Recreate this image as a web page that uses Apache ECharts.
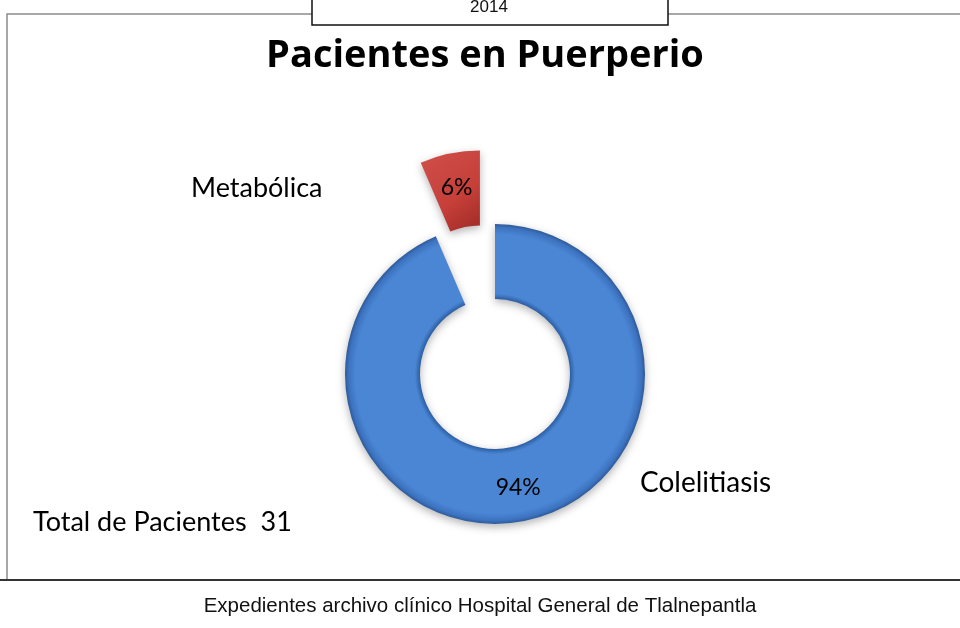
<!DOCTYPE html>
<html>
<head>
<meta charset="utf-8">
<script src="https://cdn.jsdelivr.net/npm/echarts@6/dist/echarts.min.js"></script>
<style>
  html, body { margin: 0; padding: 0; background: #fff; }
  #chart { width: 960px; height: 628px; }
</style>
</head>
<body>
<div id="chart"></div>
<script>
// data
const categories = ['Colelitiasis', 'Metabólica']
const patients = [29, 2]
const totalLabel = 'Total de Pacientes  31'
const yearLabel = '2014'
const sourceLabel = 'Expedientes archivo clínico Hospital General de Tlalnepantla'

const chart = echarts.init(document.getElementById('chart'))

const blueRing = {
  type: 'radial', x: 0.5, y: 0.5, r: 0.5,
  colorStops: [
    { offset: 0.5, color: '#2c5ea3' },
    { offset: 0.535, color: '#4a86d4' },
    { offset: 0.93, color: '#4a86d4' },
    { offset: 0.975, color: '#3d73c0' },
    { offset: 1, color: '#2d5a98' }
  ]
}
const redSlice = {
  type: 'linear', x: 0, y: 0, x2: 1, y2: 1,
  colorStops: [
    { offset: 0, color: '#d0504a' },
    { offset: 0.6, color: '#c63f39' },
    { offset: 1, color: '#9e2a26' }
  ]
}
const sliceColors = [blueRing, redSlice]
const bodyFont = 'Lato, "Open Sans", sans-serif'

const option = {
  backgroundColor: '#fff',
  animation: false,
  graphic: [
    // outer frame
    {
      type: 'rect', silent: true,
      shape: { x: 7, y: 14, width: 960, height: 566 },
      style: { fill: 'none', stroke: '#8c8c8c', lineWidth: 1.5 }
    },
    {
      type: 'line', silent: true,
      shape: { x1: 0, y1: 580, x2: 960, y2: 580 },
      style: { stroke: '#333', lineWidth: 2 }
    },
    // year box
    {
      type: 'rect', silent: true,
      shape: { x: 312, y: -3, width: 356, height: 28 },
      style: { fill: '#fff', stroke: '#111', lineWidth: 1.5 }
    },
    {
      type: 'text', silent: true, x: 489, y: 7,
      style: { text: yearLabel, font: '17px "Liberation Sans", Arial', fill: '#111', align: 'center', verticalAlign: 'middle' }
    },
    {
      type: 'text', silent: true, x: 485, y: 56,
      style: { text: 'Pacientes en Puerperio', font: 'bold 38px "Open Sans", Lato, sans-serif', fill: '#000', align: 'center', verticalAlign: 'middle' }
    },
    {
      type: 'text', silent: true, x: 191, y: 188,
      style: { text: categories[1], font: '27px ' + bodyFont, fill: '#000', verticalAlign: 'middle' }
    },
    {
      type: 'text', silent: true, x: 640, y: 483,
      style: { text: categories[0], font: '28px ' + bodyFont, fill: '#000', verticalAlign: 'middle' }
    },
    {
      type: 'text', silent: true, x: 33, y: 522,
      style: { text: totalLabel, font: '27px ' + bodyFont, fill: '#000', verticalAlign: 'middle' }
    },
    {
      type: 'text', silent: true, x: 480, y: 606,
      style: { text: sourceLabel, font: '20.5px "Liberation Sans", Arial', fill: '#111', align: 'center', verticalAlign: 'middle' }
    }
  ],
  series: [
    {
      type: 'pie',
      center: [495, 374],
      radius: [75, 150],
      startAngle: 90,
      clockwise: true,
      percentPrecision: 0,
      selectedMode: 'single',
      selectedOffset: 75,
      avoidLabelOverlap: false,
      emphasis: { disabled: true },
      itemStyle: {
        shadowBlur: 8,
        shadowColor: 'rgba(0,0,0,0.3)',
        shadowOffsetY: 3
      },
      label: {
        show: true,
        position: 'inside',
        formatter: '{d}%',
        fontFamily: bodyFont,
        fontSize: 23,
        color: '#000'
      },
      labelLine: { show: false },
      data: categories.map((name, i) => ({
        name,
        value: patients[i],
        selected: i === 1,
        itemStyle: { color: sliceColors[i] }
      }))
    }
  ]
}

chart.setOption(option)
</script>
</body>
</html>
